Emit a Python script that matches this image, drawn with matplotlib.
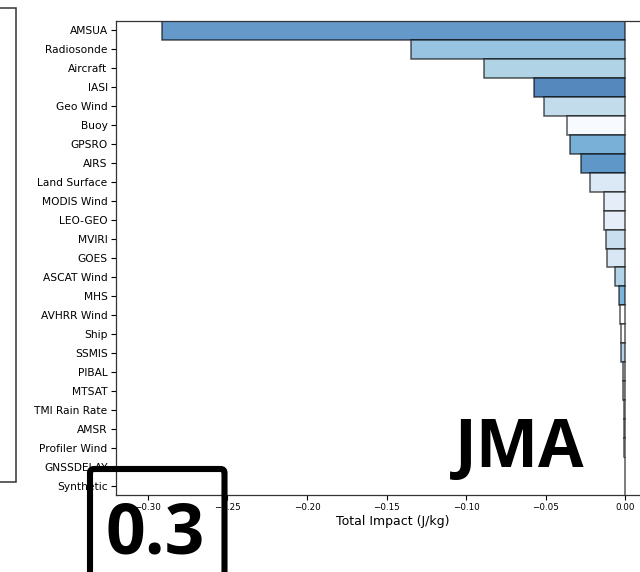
import matplotlib
matplotlib.use('Agg')
import matplotlib.pyplot as plt
from matplotlib.patches import Rectangle, FancyBboxPatch
from matplotlib.transforms import IdentityTransform

categories = ["AMSUA", "Radiosonde", "Aircraft", "IASI", "Geo Wind", "Buoy", "GPSRO",
              "AIRS", "Land Surface", "MODIS Wind", "LEO-GEO", "MVIRI", "GOES",
              "ASCAT Wind", "MHS", "AVHRR Wind", "Ship", "SSMIS", "PIBAL", "MTSAT",
              "TMI Rain Rate", "AMSR", "Profiler Wind", "GNSSDELAY", "Synthetic"]
impact = [-0.291, -0.1348, -0.0885, -0.0574, -0.0509, -0.0363, -0.0346,
          -0.0279, -0.0222, -0.0130, -0.0129, -0.0120, -0.0111,
          -0.0065, -0.0040, -0.0034, -0.0027, -0.0025, -0.0015, -0.0013,
          -0.0009, -0.0007, -0.0005, -0.0003, -0.0001]
xticks = [-0.30, -0.25, -0.20, -0.15, -0.10, -0.05, 0.00]
xlabel = "Total Impact (J/kg)"
center_label = "JMA"
corner_label = "0.3"

bar_colors = ["#6499c9", "#98c4e2", "#b0d3e6", "#5588bc", "#c2dcec", "#f7fbff", "#78b0d8",
              "#5f97c9", "#dbe8f5", "#e5eef8", "#e5eef8", "#c9dff0", "#d9e7f4",
              "#b3d4e8", "#7ab4dc", "#ffffff", "#ffffff", "#b5d3ea", "#dde9f5", "#cde0f0",
              "#e8f0f8", "#c0d8ec", "#f0f5fb", "#e0eaf5", "#ffffff"]

W, H = 640, 572
fig = plt.figure(figsize=(W / 100, H / 100), dpi=100)

x_left, x_right, y_top, y_bot = 116, 670, 21, 495
ax = fig.add_axes([x_left / W, 1 - y_bot / H, (x_right - x_left) / W, (y_bot - y_top) / H])
ypos = list(range(len(categories)))
ax.barh(ypos, impact, height=1.0, color=bar_colors, edgecolor=(0, 0, 0, 0.65), linewidth=1.1)
ax.set_ylim(len(categories) - 0.5, -0.5)
ax.set_yticks(ypos)
ax.set_yticklabels(categories)
ppu = 1590.0
ax.set_xlim(-(625 - x_left) / ppu, (x_right - 625) / ppu)
ax.set_xticks(xticks)
ax.set_xlabel(xlabel, fontsize=9, labelpad=2)
ax.tick_params(axis='y', labelsize=7.7, length=3.5, width=0.8, pad=2.5)
ax.tick_params(axis='x', labelsize=6.3, length=3.5, width=0.8, pad=2.5)
for s in ax.spines.values():
    s.set_color('#333333')
    s.set_linewidth(0.9)

fig.text(519.5 / W, 1 - 467 / H, center_label, ha='center', va='baseline',
         fontsize=47.5, fontweight='bold', family=['Open Sans', 'DejaVu Sans'])

# left partial frame
fig.add_artist(Rectangle((-10, H - 482), 26, 482 - 8, fill=False, edgecolor='#333333',
                         linewidth=1.1, transform=IdentityTransform(), clip_on=False))

# corner box with label
fig.add_artist(FancyBboxPatch((90, -40), 134.5, H - 469 + 40,
                              boxstyle="round,pad=0,rounding_size=4", fill=False,
                              edgecolor='black', linewidth=4.4,
                              transform=IdentityTransform(), clip_on=False))
fig.text(155 / W, 1 - 553 / H, corner_label, ha='center', va='baseline',
         fontsize=50, fontweight='bold', family=['Open Sans', 'DejaVu Sans'])

fig.savefig('out.png', dpi=100)
